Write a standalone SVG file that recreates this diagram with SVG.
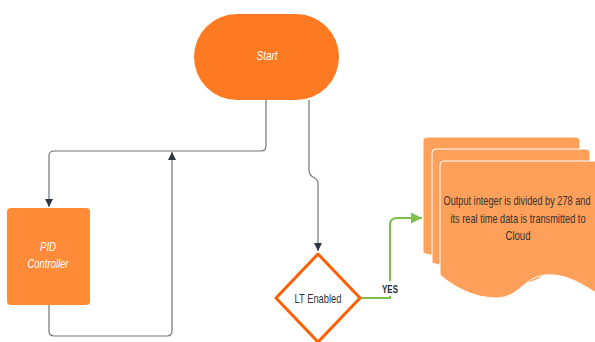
<svg xmlns="http://www.w3.org/2000/svg" width="595" height="342" viewBox="0 0 595 342">
<defs>
<style>
.conn{fill:none;stroke:#70747c;stroke-width:1.2}
.yes{fill:none;stroke:#7cc050;stroke-width:2}
.doc{fill:#ffa05a;stroke:#ffffff;stroke-width:1}
.lbl{font-family:"Liberation Sans",Arial,sans-serif;}
.wt{fill:#ffffff;font-style:italic;font-size:13px}
.dk{fill:#333333;font-size:13px}
</style>
<marker id="ah" viewBox="0 0 10 10" refX="10" refY="5" markerWidth="8" markerHeight="10" markerUnits="userSpaceOnUse" orient="auto">
<path d="M0,0 L10,5 L0,10 z" fill="#30363f"/>
</marker>
<marker id="ag" viewBox="0 0 10 10" refX="10" refY="5" markerWidth="12" markerHeight="11" markerUnits="userSpaceOnUse" orient="auto">
<path d="M0,0 L10,5 L0,10 z" fill="#7cc050"/>
</marker>
</defs>
<rect width="595" height="342" fill="#ffffff"/>
<g id="connectors">
<path class="conn" d="M266,100 V146 Q266,151 261,151 H54 Q49,151 49,156 V207" marker-end="url(#ah)"/>
<path class="conn" d="M49,305 V331 Q49,336 54,336 H167 Q172,336 172,331 V152" marker-end="url(#ah)"/>
<path class="conn" d="M309,100 V170 Q309,175 313,177 Q318,179 318,184 V251" marker-end="url(#ah)"/>
<path class="yes" d="M359,298 H390 V225 Q390,218 397,218 H422" marker-end="url(#ag)"/>
</g>
<g id="start">
<rect x="194" y="14" width="145" height="86" rx="43" ry="43" fill="#fe7a22"/>
<text class="lbl wt" x="267" y="60" text-anchor="middle" textLength="21" lengthAdjust="spacingAndGlyphs">Start</text>
</g>
<g id="pid">
<rect x="7" y="208" width="83" height="97" rx="4" ry="4" fill="#ff8a38"/>
<text class="lbl wt" x="48" y="251" text-anchor="middle" textLength="16" lengthAdjust="spacingAndGlyphs">PID</text>
<text class="lbl wt" x="48" y="268" text-anchor="middle" textLength="41" lengthAdjust="spacingAndGlyphs">Controller</text>
</g>
<g id="lt">
<path d="M318,254 L360,298 L318,342 L276,298 Z" fill="#ffffff" stroke="#ff5f00" stroke-width="3" stroke-linejoin="round"/>
<text class="lbl dk" x="318" y="303" text-anchor="middle" textLength="47" lengthAdjust="spacingAndGlyphs">LT Enabled</text>
</g>
<g id="yeslabel">
<rect x="381" y="281" width="19" height="15" fill="#ffffff"/>
<text class="lbl" x="390" y="293" text-anchor="middle" font-size="11" font-weight="bold" fill="#2d2d2d" textLength="16" lengthAdjust="spacingAndGlyphs">YES</text>
</g>
<g id="docs">
<path class="doc" d="M423,141 Q423,137 427,137 H576 Q580,137 580,141 V262 C565,255 550,255 535,265 C515,280 495,278 480,270 C460,262 440,258 423,253 Z"/>
<path class="doc" d="M432,153 Q432,149 436,149 H586 Q590,149 590,153 V278 C575,268 560,265 545,275 C525,288 505,288 490,280 C470,272 450,268 432,263 Z"/>
<path class="doc" d="M440,165 Q440,161 444,161 H594 Q598,161 598,165 V294 C583,285 566,273 545,275 C523,277 520,298 496,298 C475,298 455,288 440,275 Z"/>
<text class="lbl dk" x="517" y="205" text-anchor="middle" font-size="14" textLength="147" lengthAdjust="spacingAndGlyphs">Output integer is divided by 278 and</text>
<text class="lbl dk" x="518" y="223" text-anchor="middle" font-size="14" textLength="135" lengthAdjust="spacingAndGlyphs">its real time data is transmitted to</text>
<text class="lbl dk" x="518" y="240" text-anchor="middle" font-size="14" textLength="25" lengthAdjust="spacingAndGlyphs">Cloud</text>
</g>
</svg>
